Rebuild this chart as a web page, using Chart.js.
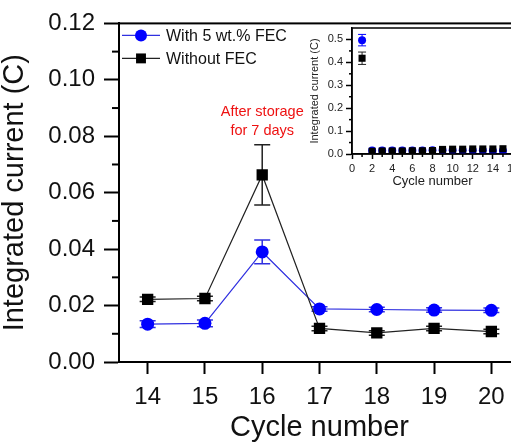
<!DOCTYPE html>
<html>
<head>
<meta charset="utf-8">
<script src="https://cdn.jsdelivr.net/npm/chart.js@4"></script>
<style>
  html, body { margin: 0; padding: 0; background: #fff; }
  #wrap { position: relative; width: 511px; height: 444px; overflow: hidden; }
  #main { position: absolute; left: 0; top: 0; }
  #inset { position: absolute; left: 300px; top: 10px; }
</style>
</head>
<body>
<div id="wrap">
  <canvas id="main" width="530" height="444"></canvas>
  <canvas id="inset" width="240" height="190"></canvas>
</div>
<script>
// --- Main chart data ---
const cycles = [14, 15, 16, 17, 18, 19, 20];
const withFEC = [0.0134, 0.0137, 0.0390, 0.0188, 0.0186, 0.0184, 0.0183];
const withFECErr = [0.0012, 0.0012, 0.0042, 0.0008, 0.0008, 0.0008, 0.0008];
const withoutFEC = [0.0222, 0.0225, 0.0663, 0.0119, 0.0103, 0.0119, 0.0108];
const withoutFECErr = [0.0008, 0.0008, 0.0107, 0.0008, 0.0008, 0.0008, 0.0008];
const yTicks = [0, 0.02, 0.04, 0.06, 0.08, 0.10, 0.12];

// --- Inset data ---
const insetCycles = [1, 2, 3, 4, 5, 6, 7, 8, 9, 10, 11, 12, 13, 14, 15];
const insetWith = [0.497, 0.015, 0.015, 0.015, 0.015, 0.015, 0.015, 0.016, 0.016, 0.016, 0.016, 0.016, 0.016, 0.014, 0.014];
const insetWithErr = [0.025, 0, 0, 0, 0, 0, 0, 0, 0, 0, 0, 0, 0, 0, 0];
const insetWithout = [0.418, 0.012, 0.013, 0.013, 0.013, 0.014, 0.014, 0.015, 0.020, 0.021, 0.021, 0.022, 0.022, 0.022, 0.023];
const insetWithoutErr = [0.027, 0, 0, 0, 0, 0, 0, 0, 0, 0, 0, 0, 0, 0, 0];
const insetXTicks = [0, 2, 4, 6, 8, 10, 12, 14, 16];
const insetYTicks = [0, 0.1, 0.2, 0.3, 0.4, 0.5];

const BLUE = '#0000ff';
const BLUE_LINE = '#3030e0';
const BLACK = '#000000';
const FONT = '"Liberation Sans", Arial, sans-serif';

Chart.defaults.font.family = FONT;
Chart.defaults.color = '#111';

function toPoints(xs, ys) {
    return xs.map((x, i) => ({ x: x, y: ys[i] }));
}

// Helper: error bars, drawn under the markers
const errorBars = {
    id: 'errorBars',
    beforeDatasetsDraw(chart, args, opts) {
        const ctx = chart.ctx;
        const yScale = chart.scales.y;
        chart.data.datasets.forEach((ds, di) => {
            if (!ds.errors) return;
            const meta = chart.getDatasetMeta(di);
            ctx.save();
            ctx.strokeStyle = ds.errorColor || ds.borderColor;
            ctx.lineWidth = opts.width || 1.5;
            meta.data.forEach((pt, i) => {
                const e = ds.errors[i];
                if (!e) return;
                const v = ds.data[i].y;
                const yTop = yScale.getPixelForValue(v + e);
                const yBot = yScale.getPixelForValue(v - e);
                const cap = opts.cap || 6;
                ctx.beginPath();
                ctx.moveTo(pt.x, yTop); ctx.lineTo(pt.x, yBot);
                ctx.moveTo(pt.x - cap, yTop); ctx.lineTo(pt.x + cap, yTop);
                ctx.moveTo(pt.x - cap, yBot); ctx.lineTo(pt.x + cap, yBot);
                ctx.stroke();
            });
            ctx.restore();
        });
    }
};

// Helper: frame + minor ticks
const frame = {
    id: 'frame',
    afterDraw(chart, args, opts) {
        const ctx = chart.ctx;
        const a = chart.chartArea;
        ctx.save();
        ctx.strokeStyle = '#000';
        ctx.lineWidth = opts.width || 2;
        ctx.strokeRect(a.left, a.top, a.right - a.left, a.bottom - a.top);
        // minor ticks at midpoints of major ticks
        ['x', 'y'].forEach(id => {
            if (!opts['minor' + id]) return;
            const sc = chart.scales[id];
            const t = sc.ticks.map(k => k.value);
            for (let i = 0; i < t.length - 1; i++) {
                const m = (t[i] + t[i + 1]) / 2;
                const p = sc.getPixelForValue(m);
                ctx.beginPath();
                if (id === 'x') { ctx.moveTo(p, a.bottom); ctx.lineTo(p, a.bottom + opts.minorLen); }
                else { ctx.moveTo(a.left, p); ctx.lineTo(a.left - opts.minorLen, p); }
                ctx.stroke();
            }
        });
        ctx.restore();
    }
};

// Helper: legend with line + marker, and the red note
const legendNote = {
    id: 'legendNote',
    afterDraw(chart) {
        const ctx = chart.ctx;
        const a = chart.chartArea;
        ctx.save();
        chart.data.datasets.slice().reverse().forEach((ds, i) => {
            const y = a.top + 12 + i * 23;
            const x0 = a.left + 3;
            ctx.strokeStyle = ds.borderColor;
            ctx.lineWidth = 1.2;
            ctx.beginPath();
            ctx.moveTo(x0, y); ctx.lineTo(x0 + 38, y);
            ctx.stroke();
            ctx.fillStyle = ds.pointBackgroundColor;
            Chart.helpers.drawPoint(ctx, {
                pointStyle: ds.pointStyle,
                radius: ds.pointStyle === 'rect' ? 7 : 6,
                borderWidth: 0
            }, x0 + 19, y);
            ctx.fillStyle = '#111';
            ctx.font = '16px ' + FONT;
            ctx.textBaseline = 'middle';
            ctx.fillText(ds.label, x0 + 44, y + 1);
        });
        // note
        const xs = chart.scales.x, ys = chart.scales.y;
        ctx.fillStyle = '#ee1111';
        ctx.font = '14.5px ' + FONT;
        ctx.textAlign = 'center';
        ctx.textBaseline = 'middle';
        ctx.fillText('After storage', xs.getPixelForValue(16), ys.getPixelForValue(0.0885));
        ctx.fillText('for 7 days', xs.getPixelForValue(16), ys.getPixelForValue(0.0818));
        ctx.restore();
    }
};

new Chart(document.getElementById('main'), {
    type: 'line',
    data: {
        datasets: [
            {
                label: 'Without FEC',
                data: toPoints(cycles, withoutFEC),
                errors: withoutFECErr,
                borderColor: '#222',
                borderWidth: 1.2,
                pointStyle: 'rect',
                pointRadius: 8,
                pointBackgroundColor: BLACK,
                pointBorderWidth: 0,
                errorColor: '#222'
            },
            {
                label: 'With 5 wt.% FEC',
                data: toPoints(cycles, withFEC),
                errors: withFECErr,
                borderColor: BLUE_LINE,
                borderWidth: 1.2,
                pointStyle: 'circle',
                pointRadius: 6.5,
                pointBackgroundColor: BLUE,
                pointBorderWidth: 0,
                errorColor: BLUE_LINE
            }
        ]
    },
    options: {
        responsive: false,
        animation: false,
        devicePixelRatio: 1,
        layout: { padding: { top: 19, right: 10, left: 0, bottom: 0 } },
        plugins: {
            legend: { display: false },
            tooltip: { enabled: false },
            errorBars: { cap: 8, width: 1.5 },
            frame: { width: 2, minory: true, minorLen: 7 }
        },
        scales: {
            x: {
                type: 'linear',
                min: 13.5,
                max: 20.5,
                afterBuildTicks: (s) => { s.ticks = cycles.map(v => ({ value: v })); },
                afterFit: (s) => { s.height = 82; },
                grid: { drawOnChartArea: false, drawTicks: true, tickLength: 12, tickColor: '#000', tickWidth: 2 },
                border: { display: true, color: '#000', width: 2 },
                ticks: { font: { size: 24 }, color: '#111', padding: 9, maxRotation: 0 },
                title: { display: true, text: 'Cycle number', font: { size: 29, lineHeight: 1 }, color: '#111', padding: { top: 0, bottom: 2 } }
            },
            y: {
                min: 0,
                max: 0.12,
                afterBuildTicks: (s) => { s.ticks = yTicks.map(v => ({ value: v })); },
                afterFit: (s) => { s.width = 119; },
                grid: { drawOnChartArea: false, drawTicks: true, tickLength: 15, tickColor: '#000', tickWidth: 2 },
                border: { display: true, color: '#000', width: 2 },
                ticks: { font: { size: 24 }, color: '#111', padding: 9, callback: (v) => v.toFixed(2) },
                title: { display: true, text: 'Integrated current (C)', font: { size: 29, lineHeight: 1 }, color: '#111', padding: { top: 0, bottom: 0 } }
            }
        }
    },
    plugins: [errorBars, frame, legendNote]
});

// --- Inset ---
new Chart(document.getElementById('inset'), {
    type: 'line',
    data: {
        datasets: [
            {
                label: 'Without FEC',
                data: toPoints(insetCycles, insetWithout),
                errors: insetWithoutErr,
                showLine: false,
                borderColor: '#222',
                pointStyle: 'rect',
                pointRadius: 5,
                pointBackgroundColor: BLACK,
                pointBorderWidth: 0
            },
            {
                label: 'With 5 wt.% FEC',
                data: toPoints(insetCycles, insetWith),
                errors: insetWithErr,
                showLine: false,
                borderColor: BLUE,
                pointStyle: 'circle',
                pointRadius: 4,
                pointBackgroundColor: BLUE,
                pointBorderWidth: 0
            }
        ]
    },
    options: {
        responsive: false,
        animation: false,
        devicePixelRatio: 1,
        layout: { padding: { top: 18, right: 27, left: 0, bottom: 0 } },
        plugins: {
            legend: { display: false },
            tooltip: { enabled: false },
            errorBars: { cap: 4, width: 1 },
            frame: { width: 1.5, minorx: true, minory: true, minorLen: 3 }
        },
        scales: {
            x: {
                type: 'linear',
                min: 0,
                max: 16,
                afterBuildTicks: (s) => { s.ticks = insetXTicks.map(v => ({ value: v })); },
                afterFit: (s) => { s.height = 46; },
                grid: { drawOnChartArea: false, drawTicks: true, tickLength: 5, tickColor: '#000', tickWidth: 1.5 },
                border: { display: true, color: '#000', width: 1.5 },
                ticks: { font: { size: 11 }, color: '#222', padding: 3, maxRotation: 0 },
                title: { display: true, text: 'Cycle number', font: { size: 13, lineHeight: 1 }, color: '#222', padding: { top: 0, bottom: 12 } }
            },
            y: {
                min: 0,
                max: 0.55,
                afterBuildTicks: (s) => { s.ticks = insetYTicks.map(v => ({ value: v })); },
                afterFit: (s) => { s.width = 52; },
                grid: { drawOnChartArea: false, drawTicks: true, tickLength: 6, tickColor: '#000', tickWidth: 1.5 },
                border: { display: true, color: '#000', width: 1.5 },
                ticks: { font: { size: 11 }, color: '#222', padding: 3, callback: (v) => v.toFixed(1) },
                title: { display: true, text: 'Integrated current (C)', font: { size: 11, lineHeight: 1 }, color: '#222', padding: { top: 9, bottom: 0 } }
            }
        }
    },
    plugins: [errorBars, frame]
});
</script>
</body>
</html>
